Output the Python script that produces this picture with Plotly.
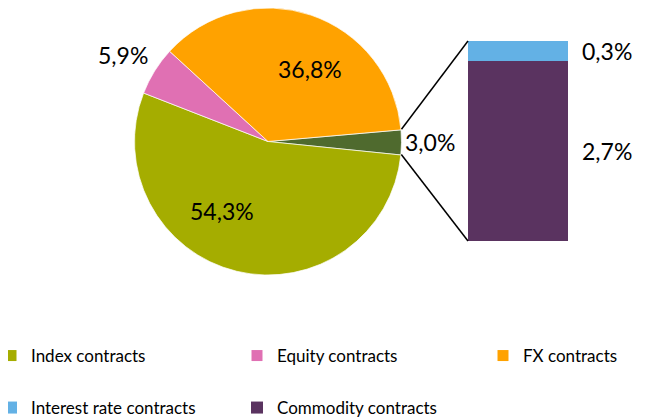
import math
import plotly.graph_objects as go

# ---- data ----
pie_labels = ["Other", "Index contracts", "Equity contracts", "FX contracts"]
pie_values = [3.0, 54.3, 5.9, 36.8]
pie_colors = ["#4F6A2E", "#A5AD00", "#E070B3", "#FFA200"]

bar_labels = ["Commodity contracts", "Interest rate contracts"]
bar_values = [2.7, 0.3]
bar_colors = ["#5A3360", "#63B1E5"]

W, H = 647, 419
OFF = 8      # page body margin
BOTTOM = 100  # bottom margin holding the legends
PH = H - BOTTOM
FONT = "Lato"

def fmt(v):
    return f"{v:.1f}".replace(".", ",") + "%"

# ---- geometry (page pixels) ----
cx, cy, r = 268, 141, 134
rotation = 85.0
bar_left, bar_right, bar_top, bar_bottom = 468, 568, 41, 241
bar_label_x = 607

def px(x):
    return (x - OFF) / W

def py(y):
    return 1 - (y - OFF) / PH

def clamp(v):
    return max(0.0, min(1.0, v))

fig = go.Figure()

fig.add_trace(go.Pie(
    labels=pie_labels, values=pie_values, sort=False, direction="clockwise",
    rotation=rotation, marker=dict(colors=pie_colors, line=dict(color="white", width=0.7)),
    textinfo="none", showlegend=False, hoverinfo="label+percent",
    domain=dict(x=[clamp(px(cx - r)), clamp(px(cx + r))],
                y=[clamp(py(cy + r)), clamp(py(cy - r))]),
))

# legend entries for pie categories (row 1)
row1_widths = [201, 201, 110]
for lab, col, lw in zip(pie_labels[1:], pie_colors[1:], row1_widths):
    fig.add_trace(go.Scatter(
        x=[None], y=[None], mode="markers", name=lab,
        marker=dict(symbol="square", size=11, color=col),
        legend="legend", legendwidth=lw, xaxis="x", yaxis="y",
    ))

# stacked bar (row 2 legend)
ranks = {"Interest rate contracts": 1, "Commodity contracts": 2}
row2_widths = {"Interest rate contracts": 201, "Commodity contracts": 170}
for lab, val, col in zip(bar_labels, bar_values, bar_colors):
    fig.add_trace(go.Bar(
        x=[0], y=[val], name=lab, marker=dict(color=col, line=dict(width=0)),
        legend="legend2", legendrank=ranks[lab], legendwidth=row2_widths[lab],
        xaxis="x", yaxis="y", width=1,
    ))

total_bar = sum(bar_values)

annotations = []
pie_label_pos = {
    "Other": (430, 142),
    "Index contracts": (222, 211),
    "Equity contracts": (123, 55),
    "FX contracts": (310, 69),
}
for lab, val in zip(pie_labels, pie_values):
    x, y = pie_label_pos[lab]
    annotations.append(dict(x=px(x), y=py(y), xref="paper", yref="paper",
                            xanchor="center", yanchor="middle",
                            text=fmt(val), showarrow=False,
                            font=dict(size=23, color="black", family=FONT)))
cum = 0
for lab, val in zip(bar_labels, bar_values):
    annotations.append(dict(x=px(bar_label_x), y=cum + val / 2, xref="paper", yref="y",
                            xanchor="center", yanchor="middle",
                            text=fmt(val), showarrow=False,
                            font=dict(size=23, color="black", family=FONT)))
    cum += val

# connector lines from the "Other" slice edges to the bar corners
other_span = pie_values[0] / sum(pie_values) * 360
a1 = math.radians(rotation)
a2 = math.radians(rotation + other_span)
p1 = (cx + r * math.sin(a1), cy - r * math.cos(a1))
p2 = (cx + r * math.sin(a2), cy - r * math.cos(a2))
shapes = [
    dict(type="line", xref="paper", yref="paper", x0=px(p1[0]), y0=py(p1[1]),
         x1=px(bar_left), y1=py(bar_top), line=dict(color="black", width=1.5)),
    dict(type="line", xref="paper", yref="paper", x0=px(p2[0]), y0=py(p2[1]),
         x1=px(bar_left), y1=py(bar_bottom), line=dict(color="black", width=1.5)),
]

leg_x = -17 / W
fig.update_layout(
    width=W, height=H, margin=dict(l=0, r=0, t=0, b=BOTTOM, autoexpand=False),
    paper_bgcolor="white", plot_bgcolor="white",
    font=dict(family=FONT, size=17, color="black"),
    barmode="stack", bargap=0,
    xaxis=dict(domain=[px(bar_left), px(bar_right)], range=[-0.5, 0.5], visible=False, fixedrange=True),
    yaxis=dict(domain=[py(bar_bottom), py(bar_top)], range=[0, total_bar], visible=False, fixedrange=True),
    legend=dict(orientation="h", x=leg_x, y=py(356), xanchor="left", yanchor="middle",
                entrywidthmode="pixels", font=dict(size=17, family=FONT), traceorder="normal",
                bgcolor="rgba(0,0,0,0)", itemclick=False),
    legend2=dict(orientation="h", x=leg_x, y=py(408), xanchor="left", yanchor="middle",
                 entrywidthmode="pixels", font=dict(size=17, family=FONT), traceorder="normal",
                 bgcolor="rgba(0,0,0,0)", itemclick=False),
    annotations=annotations, shapes=shapes, showlegend=True,
)

fig.write_html("out.html")
